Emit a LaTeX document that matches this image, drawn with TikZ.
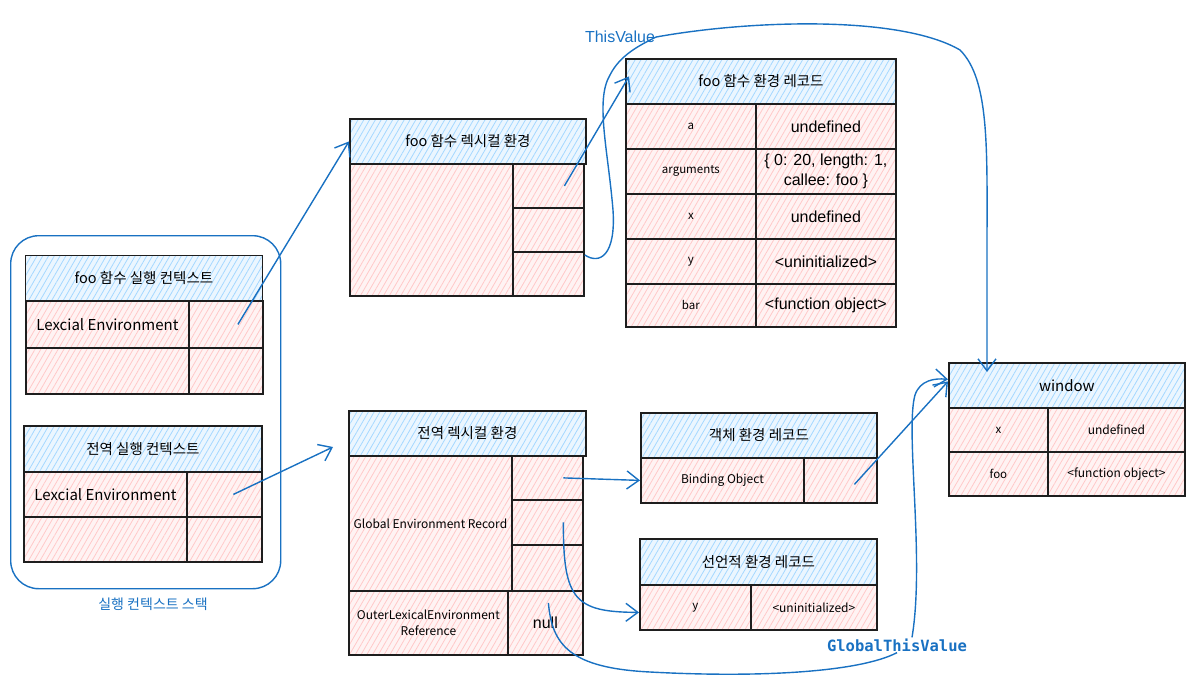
\documentclass[tikz,border=0pt]{standalone}
\usepackage{fontspec}
\usepackage{tikz}
\usetikzlibrary{arrows.meta,patterns.meta}
\newfontfamily\kr{Noto Sans CJK KR}
\newfontfamily\helv{Liberation Sans}
\newfontfamily\monofam{DejaVu Sans Mono}
\definecolor{ink}{HTML}{1E1E1E}
\definecolor{hdrblue}{HTML}{A5D8FF}
\definecolor{cellpink}{HTML}{FFC9C9}
\definecolor{linkblue}{HTML}{1971C2}

\begin{document}
\begin{tikzpicture}[
  x=1pt, y=-1pt,
  box/.style={draw=ink, line width=1.8pt, anchor=north west, inner sep=0pt, align=center},
  hdr/.style={box, preaction={fill=hdrblue!22}, pattern={Lines[angle=60,distance=5pt,line width=0.8pt]},
              pattern color=hdrblue, font=\kr\fontsize{14.5}{17}\selectfont},
  cell/.style={box, preaction={fill=cellpink!22}, pattern={Lines[angle=60,distance=5pt,line width=0.8pt]},
               pattern color=cellpink, font=\kr\fontsize{11.5}{14}\selectfont},
  val/.style={cell, font=\helv\fontsize{16}{19}\selectfont},
  link/.style={draw=linkblue, line width=1.4pt, -{Straight Barb[length=12pt,width=18pt]}},
  stackbox/.style={draw=linkblue, line width=1.4pt, rounded corners=28pt, anchor=north west, inner sep=0pt}
]
  \useasboundingbox (0,0) rectangle (1194,680);

  % execution context stack
  \node[stackbox, minimum width=270pt, minimum height=353pt] (stack) at (10,235) {};
  \node[text=linkblue, font=\kr\fontsize{14}{16}\selectfont] (stacklbl) at (153,604) {실행 컨텍스트 스택};

  \node[hdr, minimum width=237pt, minimum height=45pt] (fooctx) at (25,255) {foo 함수 실행 컨텍스트};
  \node[cell, minimum width=163pt, minimum height=47pt, font=\kr\fontsize{15}{17}\selectfont] (fooctxle) at (25,300) {Lexcial Environment};
  \node[cell, minimum width=74pt, minimum height=47pt] (fooctxler) at (188,300) {};
  \node[cell, minimum width=163pt, minimum height=46pt] (fooctxo) at (25,347) {};
  \node[cell, minimum width=74pt, minimum height=46pt] (fooctxor) at (188,347) {};

  \node[hdr, minimum width=238pt, minimum height=46pt] (globctx) at (23,425) {전역 실행 컨텍스트};
  \node[cell, minimum width=163pt, minimum height=45pt, font=\kr\fontsize{15}{17}\selectfont] (globctxle) at (23,471) {Lexcial Environment};
  \node[cell, minimum width=75pt, minimum height=45pt] (globctxler) at (186,471) {};
  \node[cell, minimum width=163pt, minimum height=45pt] (globctxo) at (23,516) {};
  \node[cell, minimum width=75pt, minimum height=45pt] (globctxor) at (186,516) {};

  % lexical environments
  \node[hdr, minimum width=236pt, minimum height=45pt] (foolex) at (349,118) {foo 함수 렉시컬 환경};
  \node[cell, minimum width=163pt, minimum height=132pt] (foolexrec) at (349,163) {};
  \node[cell, minimum width=71pt, minimum height=44pt] (foolexa) at (512,163) {};
  \node[cell, minimum width=71pt, minimum height=44pt] (foolexb) at (512,207) {};
  \node[cell, minimum width=71pt, minimum height=44pt] (foolexc) at (512,251) {};

  \node[hdr, minimum width=237pt, minimum height=45pt] (globlex) at (348,410) {전역 렉시컬 환경};
  \node[cell, minimum width=163pt, minimum height=135pt, font=\kr\fontsize{12}{14}\selectfont] (globlexrec) at (348,455) {Global Environment Record};
  \node[cell, minimum width=71pt, minimum height=44pt] (globlexa) at (511,455) {};
  \node[cell, minimum width=71pt, minimum height=45pt] (globlexb) at (511,499) {};
  \node[cell, minimum width=71pt, minimum height=46pt] (globlexc) at (511,544) {};
  \node[cell, minimum width=159pt, minimum height=64pt, font=\kr\fontsize{12}{16}\selectfont] (globlexouter) at (348,590) {OuterLexicalEnvironment\\Reference};
  \node[val, minimum width=75pt, minimum height=64pt] (globlexnull) at (507,590) {null};

  % foo function environment record
  \node[hdr, minimum width=270pt, minimum height=45pt] (foorec) at (625,58) {foo 함수 환경 레코드};
  \node[cell, minimum width=130pt, minimum height=45pt] (fooreca) at (625,103) {a};
  \node[val, minimum width=140pt, minimum height=45pt] (foorecaval) at (755,103) {undefined};
  \node[cell, minimum width=130pt, minimum height=45pt] (foorecargs) at (625,148) {arguments};
  \node[val, minimum width=140pt, minimum height=45pt, font=\helv\fontsize{16}{20}\selectfont] (foorecargsval) at (755,148) {\{ 0: 20, length: 1,\\callee: foo \}};
  \node[cell, minimum width=130pt, minimum height=45pt] (foorecx) at (625,193) {x};
  \node[val, minimum width=140pt, minimum height=45pt] (foorecxval) at (755,193) {undefined};
  \node[cell, minimum width=130pt, minimum height=45pt] (foorecy) at (625,238) {y};
  \node[val, minimum width=140pt, minimum height=45pt] (foorecyval) at (755,238) {<uninitialized>};
  \node[cell, minimum width=130pt, minimum height=43pt] (foorecbar) at (625,283) {bar};
  \node[val, minimum width=140pt, minimum height=43pt] (foorecbarval) at (755,283) {<function object>};

  % object / declarative records
  \node[hdr, minimum width=236pt, minimum height=45pt] (objrec) at (640,412) {객체 환경 레코드};
  \node[cell, minimum width=163pt, minimum height=45pt, font=\kr\fontsize{12}{14}\selectfont] (objrecbind) at (640,457) {Binding Object};
  \node[cell, minimum width=73pt, minimum height=45pt] (objrecref) at (803,457) {};

  \node[hdr, minimum width=237pt, minimum height=46pt] (decrec) at (639,538) {선언적 환경 레코드};
  \node[cell, minimum width=111pt, minimum height=45pt] (decrecy) at (639,584) {y};
  \node[cell, minimum width=126pt, minimum height=45pt, font=\kr\fontsize{12}{14}\selectfont] (decrecyval) at (750,584) {<uninitialized>};

  % global object
  \node[hdr, minimum width=236pt, minimum height=45pt, font=\kr\fontsize{15}{17}\selectfont] (win) at (948,362) {window};
  \node[cell, minimum width=99pt, minimum height=44pt] (winx) at (948,407) {x};
  \node[cell, minimum width=137pt, minimum height=44pt, font=\kr\fontsize{12}{14}\selectfont] (winxval) at (1047,407) {undefined};
  \node[cell, minimum width=99pt, minimum height=44pt] (winfoo) at (948,451) {foo};
  \node[cell, minimum width=137pt, minimum height=44pt, font=\kr\fontsize{12}{14}\selectfont] (winfooval) at (1047,451) {<function object>};

  % labels
  \node[text=linkblue, font=\helv\fontsize{16}{18}\selectfont, inner sep=1pt] (thislbl) at (620,37) {ThisValue};
  \node[text=linkblue, font=\monofam\bfseries\fontsize{15.5}{18}\selectfont, inner sep=1pt] (glblbl) at (897,645) {GlobalThisValue};
  \coordinate (globtip) at (333,447);
  \coordinate (thistip) at (987,372);

  % links
  \draw[link] ([xshift=12pt]fooctxler.center) -- (foolex.west);
  \draw[link] ([xshift=9pt]globctxler.center) -- (globtip);
  \draw[link] ([xshift=16pt]foolexa.center) -- ([xshift=4pt,yshift=5pt]foorec.west);
  \draw[link] ([xshift=16pt]globlexa.center) -- (objrecbind.west);
  \draw[link] ([xshift=16pt]globlexb.center) .. controls (563,600) and (575,612) .. ([yshift=-5pt]decrecy.west);
  \draw[link] ([xshift=14pt,yshift=-4pt]objrecref.center) -- ([yshift=4pt]win.west);

  \draw[link] ([yshift=-4pt]foolexc.north east) .. controls (600,265) and (616,255) .. (613,210)
    .. controls (608,150) and (595,100) .. (610,75) .. controls (620,55) and (640,45) .. (thislbl.east)
    .. controls (750,20) and (900,15) .. (960,50) .. controls (990,80) and (987,150) .. (987,250) -- (thistip);

  \draw[link, -] ([xshift=3pt,yshift=-13pt]globlexnull.north) .. controls (552,645) and (570,668) .. (650,672)
    .. controls (760,678) and (860,672) .. (glblbl.south);
  \draw[link] ([xshift=15pt]glblbl.north) .. controls (925,560) and (905,430) .. (915,395)
    .. controls (920,380) and (935,378) .. ([yshift=6pt]win.west);
\end{tikzpicture}
\end{document}
